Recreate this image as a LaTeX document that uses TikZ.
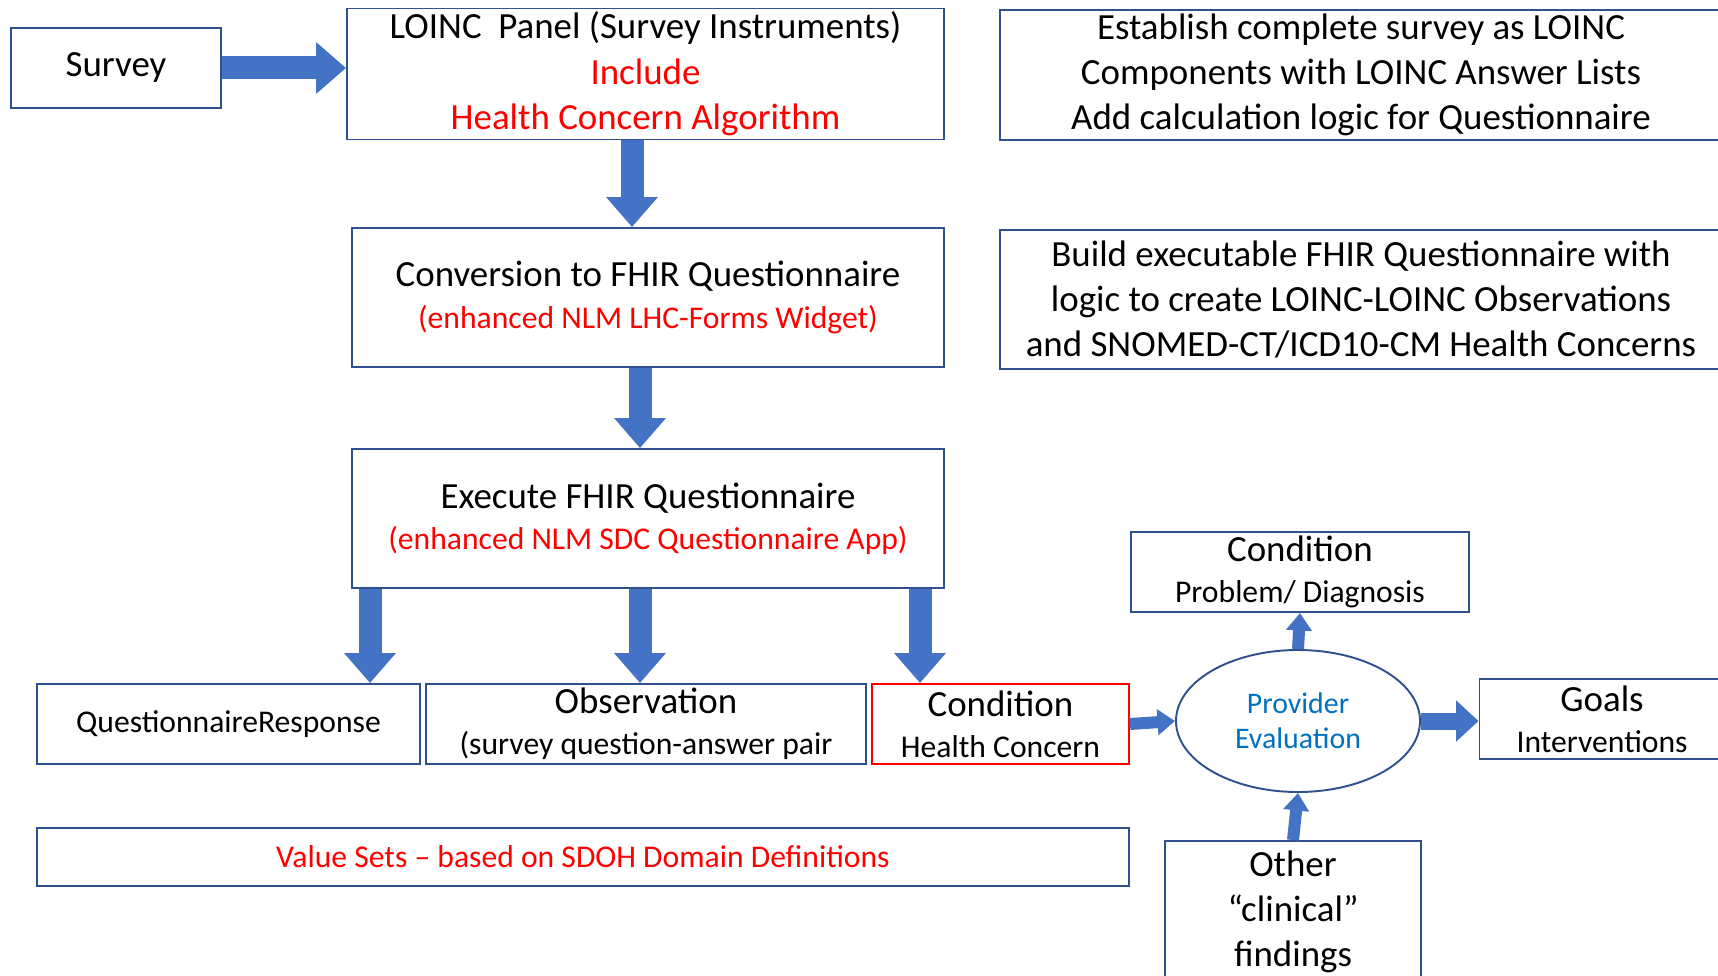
\documentclass[tikz,border=0pt]{standalone}
\usepackage{fontspec}
\setmainfont{Carlito}
\usepackage{xcolor}
\usetikzlibrary{arrows.meta,shapes.geometric}

\definecolor{boxblue}{RGB}{47,82,143}
\definecolor{arrowblue}{RGB}{68,114,196}
\definecolor{hcred}{RGB}{255,0,0}
\definecolor{evalblue}{RGB}{0,112,192}

\tikzset{
  box/.style={draw=boxblue,line width=1.1pt,align=center,inner sep=2pt},
  bigtext/.style={font=\fontsize{21}{25.8}\selectfont},
  twoline/.style={font=\fontsize{21}{23.5}\selectfont},
  smalltext/.style={font=\fontsize{18}{22}\selectfont},
  fatarrow/.style={draw=arrowblue,line width=0.46cm,-{Triangle[width=1cm,length=0.6cm]}},
  thinarrow/.style={draw=arrowblue,line width=0.24cm,-{Triangle[width=0.5cm,length=0.35cm]}},
  midarrow/.style={draw=arrowblue,line width=0.34cm,-{Triangle[width=0.8cm,length=0.45cm]}}
}
\newcommand{\red}[1]{\textcolor{hcred}{#1}}
\newcommand{\sub}[1]{{\fontsize{18}{23.5}\selectfont #1}}

\begin{document}
\begin{tikzpicture}
\useasboundingbox (0,0) rectangle (34.36,-19.52);
\draw (2.32,-1.36) node[box,bigtext,minimum width=4.2cm,minimum height=1.6cm](survey) {Survey};
\draw (12.91,-1.48) node[box,bigtext,minimum width=11.94cm,minimum height=2.56cm](loinc) {LOINC\ \ Panel (Survey Instruments)\\\red{Include}\\\red{Health Concern Algorithm}};
\draw (27.22,-1.5) node[box,bigtext,minimum width=14.44cm,minimum height=2.6cm](establish) {Establish complete survey as LOINC\\Components with LOINC Answer Lists\\Add calculation logic for Questionnaire};
\draw (12.96,-5.95) node[box,twoline,minimum width=11.84cm,minimum height=2.78cm](conv) {Conversion to FHIR Questionnaire\\\sub{\red{(enhanced NLM LHC-Forms Widget)}}};
\draw (27.22,-5.99) node[box,bigtext,minimum width=14.44cm,minimum height=2.78cm](build) {Build executable FHIR Questionnaire with\\logic to create LOINC-LOINC Observations\\and SNOMED-CT/ICD10-CM Health Concerns};
\draw (12.96,-10.37) node[box,twoline,minimum width=11.84cm,minimum height=2.78cm](exec) {Execute FHIR Questionnaire\\\sub{\red{(enhanced NLM SDC Questionnaire App)}}};
\draw (4.57,-14.48) node[box,smalltext,minimum width=7.66cm,minimum height=1.6cm](qr) {QuestionnaireResponse};
\draw (12.92,-14.48) node[box,twoline,minimum width=8.8cm,minimum height=1.6cm](obs) {Observation\\\sub{(survey question-answer pair}};
\draw (20.01,-14.48) node[box,twoline,draw=hcred,minimum width=5.14cm,minimum height=1.6cm](hc) {Condition\\\sub{Health Concern}};
\draw (11.66,-17.14) node[box,smalltext,minimum width=21.84cm,minimum height=1.16cm](vs) {\red{Value Sets -- based on SDOH Domain Definitions}};
\draw (26.0,-11.44) node[box,twoline,minimum width=6.76cm,minimum height=1.6cm](pd) {Condition\\\sub{Problem/ Diagnosis}};
\draw (25.96,-14.42) node[ellipse,draw=boxblue,line width=1.1pt,minimum width=4.88cm,minimum height=2.84cm,inner sep=0pt,align=center,text=evalblue,font=\fontsize{17}{20}\selectfont](eval) {Provider\\Evaluation};
\draw (32.04,-14.38) node[box,twoline,minimum width=4.9cm,minimum height=1.6cm](goals) {Goals\\\sub{Interventions}};
\draw (25.86,-18.24) node[box,bigtext,minimum width=5.12cm,minimum height=2.84cm](other) {Other\\``clinical''\\findings};
% block arrows
\draw[fatarrow] (survey.east) -- (loinc.west |- survey.east);
\draw[fatarrow] (loinc.south -| 12.64,0) -- (conv.north -| 12.64,0);
\draw[fatarrow] (conv.south -| 12.8,0) -- (exec.north -| 12.8,0);
\draw[fatarrow] (exec.south -| 7.4,0) -- (qr.north -| 7.4,0);
\draw[fatarrow] (exec.south -| 12.8,0) -- (obs.north -| 12.8,0);
\draw[fatarrow] (exec.south -| 18.4,0) -- (hc.north -| 18.4,0);
\draw[thinarrow] (hc.east) -- (eval.west);
\draw[midarrow] (eval.east) -- (goals.west |- eval.east);
\draw[thinarrow] (eval.north) -- (pd.south);
\draw[thinarrow] (other.north) -- (eval.south);
\end{tikzpicture}
\end{document}
